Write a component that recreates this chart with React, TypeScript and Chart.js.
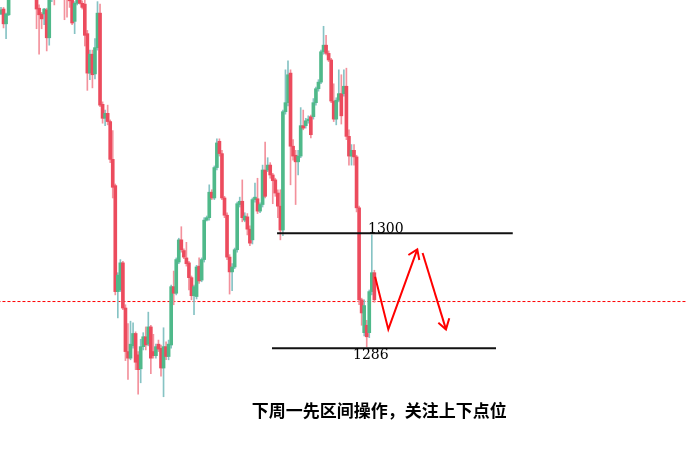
import { useEffect, useRef } from "react";
import { Chart, registerables } from "chart.js";
Chart.register(...registerables);

const openPrices = [1326.7,1327.3,1325.5,1326.6,1329.0,1330.8,1330.0,1332.5,1333.8,1332.0,1331.4,1333.2,1331.5,1330.1,1329.6,1327.4,1326.7,1326.7,1327.2,1323.8,1329.0,1331.0,1329.6,1332.0,1333.0,1331.2,1330.2,1329.0,1328.4,1325.8,1328.0,1329.0,1328.0,1327.9,1324.3,1319.5,1321.8,1319.4,1322.6,1326.8,1315.7,1314.0,1314.6,1313.6,1309.0,1305.8,1292.9,1293.1,1296.4,1290.9,1285.6,1284.8,1286.3,1287.8,1285.2,1283.5,1286.2,1287.4,1286.5,1288.6,1285.6,1285.1,1286.5,1286.0,1283.6,1286.2,1285.0,1286.4,1293.5,1292.7,1296.5,1299.2,1297.9,1297.0,1296.4,1294.6,1292.4,1292.3,1296.0,1294.3,1296.8,1301.6,1301.9,1305.0,1304.3,1308.0,1311.2,1309.7,1304.3,1302.2,1297.1,1295.3,1295.9,1298.0,1303.5,1303.9,1301.6,1302.0,1300.5,1299.2,1304.1,1304.2,1302.7,1303.5,1307.7,1307.7,1308.3,1307.1,1306.5,1304.9,1303.3,1300.4,1314.8,1315.9,1319.5,1310.6,1309.5,1308.7,1309.4,1313.1,1313.1,1313.7,1314.2,1314.2,1315.9,1317.6,1318.4,1322.1,1322.9,1321.9,1321.1,1316.1,1313.9,1316.2,1317.0,1317.0,1317.9,1311.8,1309.4,1310.1,1309.3,1303.1,1291.9,1287.9,1288.8,1287.9,1292.9,1295.2];
const highPrices = [1327.5,1327.5,1326.8,1329.6,1331.2,1331.5,1333.0,1334.5,1334.2,1332.8,1333.9,1333.6,1332.0,1330.6,1330.2,1327.8,1326.9,1327.4,1327.4,1329.6,1331.5,1331.4,1332.6,1333.5,1333.6,1331.6,1330.5,1329.4,1328.8,1328.2,1329.1,1329.4,1328.3,1328.4,1324.7,1322.3,1322.3,1323.7,1328.2,1327.9,1316.0,1315.0,1315.6,1313.8,1312.5,1306.0,1295.2,1296.8,1296.6,1291.3,1289.0,1289.3,1289.1,1288.0,1285.6,1287.1,1287.9,1288.6,1290.4,1288.8,1287.7,1286.5,1287.0,1286.4,1288.5,1286.8,1287.0,1293.7,1295.4,1297.0,1299.4,1300.8,1298.1,1298.9,1296.6,1294.8,1293.7,1296.1,1297.0,1297.0,1301.9,1302.1,1305.9,1305.3,1308.2,1311.5,1311.5,1310.1,1304.5,1302.5,1297.4,1296.3,1298.2,1303.8,1304.4,1306.5,1302.5,1302.4,1300.9,1304.3,1306.1,1306.7,1303.7,1308.3,1311.1,1309.2,1308.6,1307.3,1306.7,1305.3,1305.3,1315.0,1319.9,1321.0,1319.9,1311.4,1310.1,1310.1,1315.3,1315.0,1314.0,1314.3,1314.4,1316.4,1317.8,1318.7,1322.3,1325.2,1324.1,1322.2,1321.3,1318.2,1316.5,1319.9,1319.3,1319.9,1320.1,1312.6,1310.8,1310.8,1309.5,1303.3,1292.1,1291.9,1289.4,1293.1,1299.8,1295.5];
const lowPrices = [1326.6,1325.0,1323.7,1326.5,1328.6,1329.5,1329.6,1332.0,1331.5,1330.9,1331.0,1331.0,1329.5,1329.0,1324.9,1321.8,1324.9,1325.4,1322.2,1322.9,1328.2,1327.8,1329.2,1331.5,1330.8,1326.0,1326.3,1327.5,1325.4,1324.3,1327.8,1327.9,1327.3,1322.8,1317.4,1318.7,1317.7,1318.8,1322.3,1315.4,1313.4,1313.1,1313.2,1308.6,1304.3,1292.5,1289.7,1292.9,1290.7,1284.5,1282.2,1284.6,1286.0,1283.4,1280.4,1281.8,1285.8,1285.8,1286.3,1282.9,1284.8,1284.8,1285.6,1282.6,1280.1,1284.6,1284.6,1286.0,1291.3,1292.5,1296.3,1297.7,1296.9,1296.0,1293.1,1291.9,1290.1,1292.0,1293.9,1294.1,1296.5,1301.5,1301.6,1304.1,1304.1,1307.7,1309.4,1304.1,1301.9,1296.8,1292.6,1293.0,1295.7,1297.7,1303.2,1301.4,1301.4,1299.8,1298.5,1298.7,1303.8,1302.4,1302.5,1303.2,1304.3,1307.5,1306.7,1303.6,1304.5,1301.9,1299.2,1299.7,1314.5,1315.5,1305.9,1308.9,1303.5,1307.1,1309.2,1312.6,1312.8,1313.4,1311.6,1313.9,1315.6,1317.3,1318.2,1321.8,1321.7,1320.9,1315.9,1313.6,1313.2,1316.0,1313.3,1316.7,1311.4,1308.3,1308.3,1308.3,1302.6,1291.3,1288.8,1287.5,1286.2,1287.3,1292.5,1291.6];
const closePrices = [1327.2,1325.5,1326.7,1329.0,1330.8,1330.0,1332.5,1333.8,1332.0,1331.4,1333.2,1331.5,1330.1,1329.6,1327.3,1326.6,1326.1,1327.3,1323.8,1329.0,1331.0,1329.6,1332.0,1333.0,1331.2,1330.2,1329.0,1328.3,1325.6,1328.0,1328.6,1328.0,1327.5,1324.1,1319.5,1321.8,1319.3,1322.6,1326.8,1315.6,1314.0,1314.6,1313.6,1309.0,1305.6,1292.9,1294.9,1296.4,1290.9,1285.6,1284.8,1286.5,1287.8,1284.3,1283.4,1286.2,1287.4,1286.4,1288.6,1284.8,1285.1,1286.2,1285.9,1283.6,1286.2,1285.0,1286.5,1293.5,1292.7,1296.8,1299.2,1298.0,1297.1,1296.3,1294.6,1292.4,1293.5,1295.9,1294.2,1296.8,1301.6,1301.9,1305.0,1304.3,1308.0,1311.0,1309.7,1304.3,1302.2,1297.1,1295.3,1295.9,1298.0,1303.6,1303.9,1301.9,1302.1,1300.5,1298.8,1304.1,1304.4,1302.7,1303.5,1307.7,1304.5,1308.3,1307.1,1306.4,1304.9,1303.3,1300.4,1314.8,1315.9,1319.3,1310.6,1309.4,1308.7,1309.4,1313.1,1312.8,1313.7,1313.9,1312.0,1315.9,1317.6,1318.4,1322.1,1322.9,1321.9,1321.1,1316.1,1313.9,1316.2,1317.0,1314.3,1317.9,1311.8,1309.4,1310.1,1309.3,1303.1,1291.9,1290.3,1291.2,1287.4,1292.9,1295.2,1291.9];

// support / resistance levels (price, start bar, end bar)
const levelPrices = [1300, 1286];
const levelStarts = [108.7, 106.7];
const levelEnds = [201.5, 194.9];
const levelLabels = ["1300", "1286"];
const levelLabelBars = [144.5, 138.6];
const levelLabelPrices = [1300.0, 1284.7];

// current price dotted line
const currentPrice = 1291.69;

// projected path (bar, price)
const pathBars = [147.3, 152.5, 163.9];
const pathPrices = [1294.7, 1288.3, 1298.05];
const head1Bars = [160.4, 163.9, 164.7];
const head1Prices = [1297.36, 1298.05, 1296.75];
const path2Bars = [166.0, 175.2];
const path2Prices = [1297.6, 1288.3];
const head2Bars = [172.2, 175.2, 176.5];
const head2Prices = [1289.1, 1288.3, 1289.65];

const noteText = "下周一先区间操作，关注上下点位";
const noteBar = 148.9;
const notePrice = 1278.4;

const X_MIN = -0.39;
const X_MAX = 270.1;
const Y_MIN = 1272.4;
const Y_MAX = 1328.4;

const GREEN = "#4fb98a";
const RED = "#ec4b5d";
const GREEN_WICK = "#86c3c4";
const RED_WICK = "#f3919c";

const pts = (xs: number[], ys: number[]) => xs.map((x, i) => ({ x, y: ys[i] }));

export default function App() {
  const ref = useRef<HTMLCanvasElement | null>(null);
  useEffect(() => {
    document.body.style.margin = "0";
    const idx = openPrices.map((_, i) => i);
    const up = idx.map((i) => closePrices[i] >= openPrices[i]);
    const textPlugin = {
      id: "notes",
      afterDatasetsDraw(chart: any) {
        const { ctx } = chart;
        const xs = chart.scales.x;
        const ys = chart.scales.y;
        ctx.save();
        ctx.fillStyle = "#000";
        ctx.font = '14px "DejaVu Serif"';
        ctx.textAlign = "left";
        ctx.textBaseline = "alphabetic";
        levelLabels.forEach((t, i) => {
          ctx.fillText(t, xs.getPixelForValue(levelLabelBars[i]), ys.getPixelForValue(levelLabelPrices[i]));
        });
        ctx.font = 'bold 17px "Noto Sans CJK SC"';
        ctx.textAlign = "center";
        ctx.textBaseline = "middle";
        ctx.fillText(noteText, xs.getPixelForValue(noteBar), ys.getPixelForValue(notePrice));
        ctx.restore();
      },
    };
    const redLine = (data: any[]) => ({
      type: "line",
      data,
      borderColor: "#ff0000",
      borderWidth: 2,
      pointRadius: 0,
      fill: false,
      tension: 0,
      order: 0,
    });
    const chart = new Chart(ref.current!, {
      type: "bar",
      data: {
        datasets: [
          redLine(pts(pathBars, pathPrices)),
          redLine(pts(head1Bars, head1Prices)),
          redLine(pts(path2Bars, path2Prices)),
          redLine(pts(head2Bars, head2Prices)),
          ...levelPrices.map((p, i) => ({
            type: "line",
            data: [
              { x: levelStarts[i], y: p },
              { x: levelEnds[i], y: p },
            ],
            borderColor: "#111",
            borderWidth: 2,
            pointRadius: 0,
            fill: false,
            order: 1,
          })),
          {
            type: "bar",
            data: idx.map((i) => ({ x: i, y: [openPrices[i], closePrices[i]] })),
            backgroundColor: up.map((u) => (u ? GREEN : RED)),
            barThickness: 3,
            grouped: false,
            minBarLength: 1,
            borderWidth: 0,
            order: 2,
          },
          {
            type: "bar",
            data: idx.map((i) => ({ x: i, y: [lowPrices[i], highPrices[i]] })),
            backgroundColor: up.map((u) => (u ? GREEN_WICK : RED_WICK)),
            barThickness: 1,
            grouped: false,
            borderWidth: 0,
            order: 3,
          },
          {
            type: "line",
            data: [
              { x: X_MIN - 1, y: currentPrice },
              { x: X_MAX + 1, y: currentPrice },
            ],
            borderColor: "#ff0000",
            borderWidth: 1,
            borderDash: [3, 2],
            pointRadius: 0,
            fill: false,
            order: 4,
          },
        ] as any,
      },
      options: {
        responsive: false,
        maintainAspectRatio: false,
        animation: false,
        events: [],
        layout: { padding: 0 },
        plugins: { legend: { display: false }, tooltip: { enabled: false } },
        scales: {
          x: { type: "linear", display: false, min: X_MIN, max: X_MAX, offset: false },
          y: { display: false, min: Y_MIN, max: Y_MAX },
        },
      },
      plugins: [textPlugin],
    });
    return () => chart.destroy();
  }, []);
  return (
    <div style={{ position: "fixed", left: 0, top: 0, width: 687, height: 460, background: "#fff" }}>
      <canvas ref={ref} width={687} height={460} style={{ display: "block" }} />
    </div>
  );
}
